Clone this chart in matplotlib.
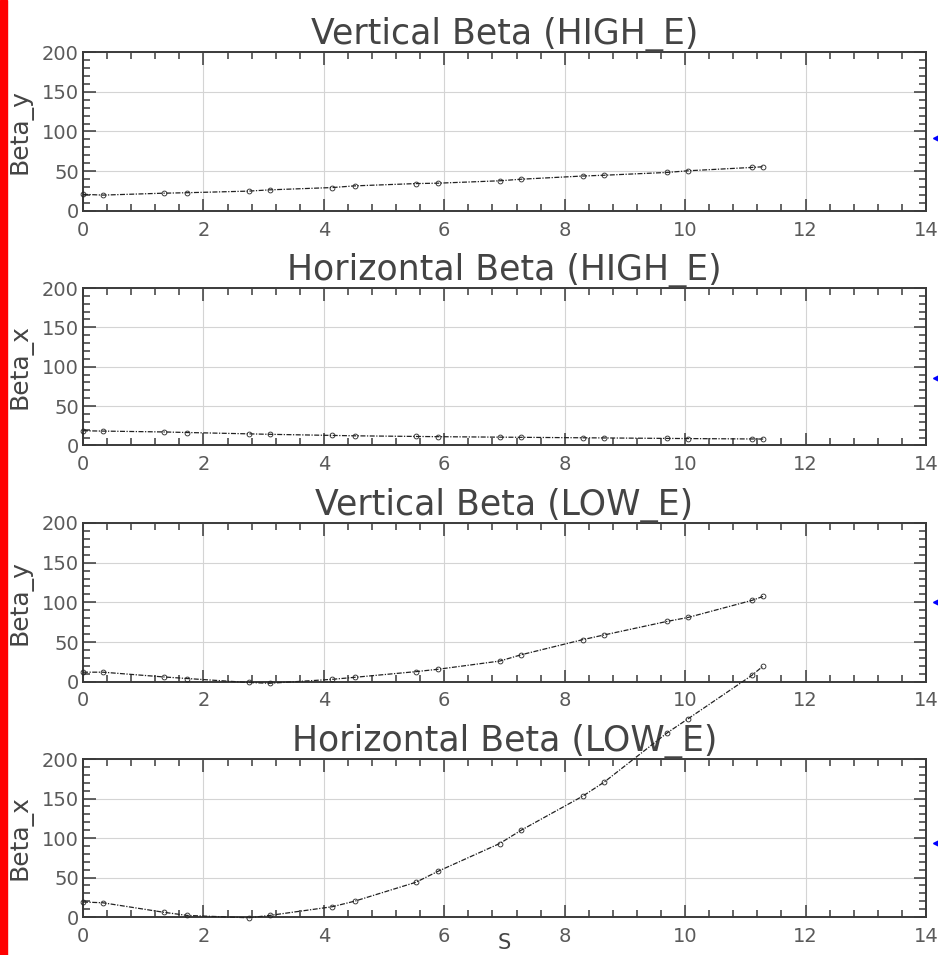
import matplotlib.pyplot as plt
from matplotlib.ticker import MultipleLocator
from matplotlib.patches import Rectangle

# position along the line (m)
s = [0.0, 0.33, 1.34, 1.73, 2.75, 3.10, 4.14, 4.51, 5.53, 5.90,
     6.92, 7.28, 8.30, 8.66, 9.70, 10.05, 11.11, 11.30]

beta_y_high = [21, 20, 22.4, 23, 25, 26.6, 29.5, 31.6, 34.5, 35,
               38, 40, 44, 45, 48.5, 50.6, 54.8, 55.7]
beta_x_high = [18.7, 18.3, 17.2, 16.5, 14.8, 14.2, 12.8, 12.3, 11.5, 11.2,
               10.6, 10.4, 9.8, 9.6, 9.0, 8.8, 8.3, 8.2]
beta_y_low = [12, 12, 6, 4, -1, -2, 3, 5.5, 12.7, 15.7,
              26, 34, 53, 59, 76, 81, 102.5, 107.6]
beta_x_low = [19, 18, 6, 2, -1, 2, 13, 20, 44, 58,
              93, 110, 153, 171, 233, 251, 306, 318]

titles = ["Vertical Beta (HIGH_E)", "Horizontal Beta (HIGH_E)",
          "Vertical Beta (LOW_E)", "Horizontal Beta (LOW_E)"]
ylabels = ["Beta_y", "Beta_x", "Beta_y", "Beta_x"]
series = [beta_y_high, beta_x_high, beta_y_low, beta_x_low]

W, H = 938, 955
fig = plt.figure(figsize=(W / 100, H / 100), dpi=100)
fig.patch.set_facecolor("white")

# red strip down the left side
fig.patches.append(Rectangle((0, 0), 7 / W, 1, transform=fig.transFigure,
                             color="red", zorder=10))

left, width = 83 / W, 843 / W
boxes = [(52, 211), (288, 445.5), (523, 681.7), (759, 917)]
arrow_y = [0.46, 0.43, 0.50, 0.47]
ink = "#3a3a3a"

for i, (top, bot) in enumerate(boxes):
    ax = fig.add_axes([left, 1 - bot / H, width, (bot - top) / H])
    ax.set_xlim(0, 14)
    ax.set_ylim(0, 200)
    ax.xaxis.set_major_locator(MultipleLocator(2))
    ax.xaxis.set_minor_locator(MultipleLocator(0.4))
    ax.yaxis.set_major_locator(MultipleLocator(50))
    ax.yaxis.set_minor_locator(MultipleLocator(10))
    ax.grid(True, which="major", color="#d4d4d4", lw=0.8)
    ax.set_axisbelow(True)
    for sp in ax.spines.values():
        sp.set_linewidth(1.4)
        sp.set_color(ink)
    ax.tick_params(which="both", direction="in", top=True, right=True,
                   colors=ink, labelcolor="#5a5a5a", labelsize=14, width=1.1)
    ax.tick_params(which="major", length=9)
    ax.tick_params(which="minor", length=5)
    ax.tick_params(axis="x", which="major", pad=7)
    ax.tick_params(axis="y", which="major", pad=3)

    ax.plot(s, series[i], color="#222222", lw=0.9, ls=(0, (4, 1.2, 1, 1.2)),
            marker="o", ms=3.5, mfc="none", mew=0.6, clip_on=False, zorder=5)

    ax.set_title(titles[i], fontsize=25, color="#444444", pad=1)
    ax.set_ylabel(ylabels[i], fontsize=18, color="#444444")
    ax.yaxis.set_label_coords(-0.06, 0.5)

    # small blue pointer past the right edge
    ax.plot([1.012], [arrow_y[i]], transform=ax.transAxes, marker="<",
            ms=4, color="blue", clip_on=False)

    if i == 3:
        ax.set_xlabel("S", fontsize=15, color="#444444", labelpad=-9)

fig.savefig("out.png", dpi=100)
